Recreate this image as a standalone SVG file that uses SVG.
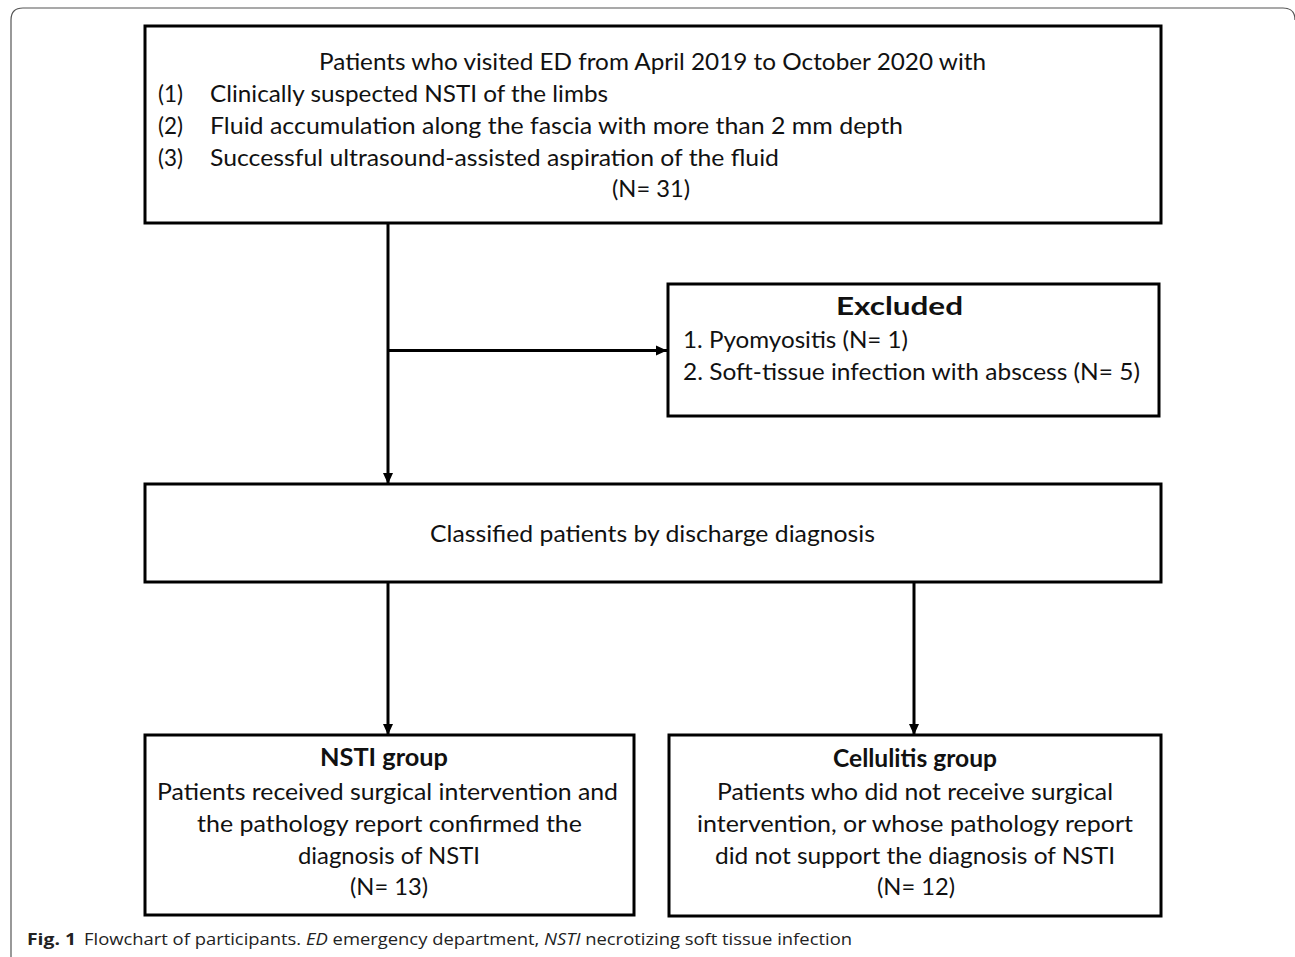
<svg xmlns="http://www.w3.org/2000/svg" width="1295" height="957" viewBox="0 0 1295 957">
<style>
.box{fill:#fff;stroke:#000;stroke-width:3}
.t{font-family:Lato,"Liberation Sans",sans-serif;font-size:23.5px;fill:#111}
.b{font-weight:bold;font-size:24.5px}
.conn{fill:none;stroke:#000;stroke-width:3}
.cap{font-family:"Open Sans","Liberation Sans",sans-serif;font-size:16.5px;fill:#222}
</style>
<defs>
<marker id="ah" markerUnits="userSpaceOnUse" markerWidth="12" markerHeight="12" viewBox="0 0 12 12" refX="11" refY="6" orient="auto">
<path d="M0,1 L11,6 L0,11 Z" fill="#000"/>
</marker>
</defs>
<rect width="1295" height="957" fill="#fff"/>
<path d="M11,957 V20 Q11,8 23,8 H1283 Q1295,8 1295,20" fill="none" stroke="#555" stroke-width="1.2"/>

<g id="connectors">
<path class="conn" d="M388,223 V484" marker-end="url(#ah)"/>
<path class="conn" d="M388,350.5 H667" marker-end="url(#ah)"/>
<path class="conn" d="M388,582 V735" marker-end="url(#ah)"/>
<path class="conn" d="M914,582 V735" marker-end="url(#ah)"/>
</g>

<g id="n_start">
<rect class="box" x="145" y="26" width="1016" height="197"/>
<text class="t" x="319" y="70" textLength="667" lengthAdjust="spacingAndGlyphs">Patients who visited ED from April 2019 to October 2020 with</text>
<text class="t" x="158" y="102" textLength="25" lengthAdjust="spacingAndGlyphs">(1)</text>
<text class="t" x="210" y="102" textLength="398" lengthAdjust="spacingAndGlyphs">Clinically suspected NSTI of the limbs</text>
<text class="t" x="158" y="134" textLength="25" lengthAdjust="spacingAndGlyphs">(2)</text>
<text class="t" x="210" y="134" textLength="693" lengthAdjust="spacingAndGlyphs">Fluid accumulation along the fascia with more than 2 mm depth</text>
<text class="t" x="158" y="166" textLength="25" lengthAdjust="spacingAndGlyphs">(3)</text>
<text class="t" x="210" y="166" textLength="569" lengthAdjust="spacingAndGlyphs">Successful ultrasound-assisted aspiration of the fluid</text>
<text class="t" x="612" y="197" textLength="78" lengthAdjust="spacingAndGlyphs">(N= 31)</text>
</g>

<g id="n_excluded">
<rect class="box" x="668" y="284" width="491" height="132"/>
<text class="t b" x="836" y="315" textLength="127" lengthAdjust="spacingAndGlyphs">Excluded</text>
<text class="t" x="683" y="348" textLength="225" lengthAdjust="spacingAndGlyphs">1. Pyomyositis (N= 1)</text>
<text class="t" x="683" y="380" textLength="457" lengthAdjust="spacingAndGlyphs">2. Soft-tissue infection with abscess (N= 5)</text>
</g>

<g id="n_classified">
<rect class="box" x="145" y="484" width="1016" height="98"/>
<text class="t" x="430" y="542" textLength="445" lengthAdjust="spacingAndGlyphs">Classified patients by discharge diagnosis</text>
</g>

<g id="n_nsti">
<rect class="box" x="145" y="735" width="489" height="180"/>
<text class="t b" x="320" y="766" textLength="128" lengthAdjust="spacingAndGlyphs">NSTI group</text>
<text class="t" x="157" y="800" textLength="461" lengthAdjust="spacingAndGlyphs">Patients received surgical intervention and</text>
<text class="t" x="197" y="832" textLength="385" lengthAdjust="spacingAndGlyphs">the pathology report confirmed the</text>
<text class="t" x="298" y="864" textLength="182" lengthAdjust="spacingAndGlyphs">diagnosis of NSTI</text>
<text class="t" x="350" y="895" textLength="78" lengthAdjust="spacingAndGlyphs">(N= 13)</text>
</g>

<g id="n_cellulitis">
<rect class="box" x="669" y="735" width="492" height="181"/>
<text class="t b" x="833" y="767" textLength="164" lengthAdjust="spacingAndGlyphs">Cellulitis group</text>
<text class="t" x="717" y="800" textLength="396" lengthAdjust="spacingAndGlyphs">Patients who did not receive surgical</text>
<text class="t" x="697" y="832" textLength="436" lengthAdjust="spacingAndGlyphs">intervention, or whose pathology report</text>
<text class="t" x="715" y="864" textLength="400" lengthAdjust="spacingAndGlyphs">did not support the diagnosis of NSTI</text>
<text class="t" x="877" y="895" textLength="78" lengthAdjust="spacingAndGlyphs">(N= 12)</text>
</g>

<text class="cap" x="27" y="945" font-weight="bold" textLength="49" lengthAdjust="spacingAndGlyphs">Fig. 1</text>
<text class="cap" x="84" y="945" textLength="768" lengthAdjust="spacingAndGlyphs">Flowchart of participants. <tspan font-style="italic">ED</tspan> emergency department, <tspan font-style="italic">NSTI</tspan> necrotizing soft tissue infection</text>
</svg>
